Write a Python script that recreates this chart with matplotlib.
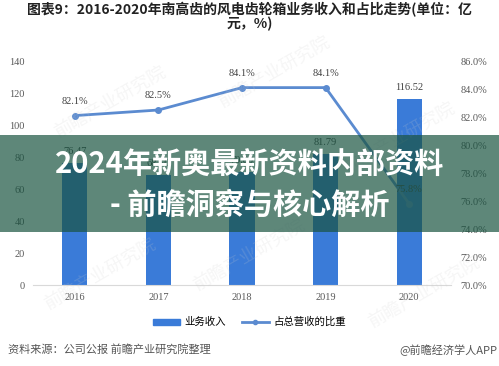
import matplotlib
matplotlib.use("Agg")
from matplotlib import pyplot
from matplotlib.patches import Rectangle, Patch
from matplotlib.lines import Line2D

pyplot.rcParams['font.family'] = ['Noto Sans CJK SC', 'DejaVu Sans']

years = ['2016', '2017', '2018', '2019', '2020']
revenue = [76.47, 68.50, 70.80, 81.79, 116.52]   # 亿元
share = [82.1, 82.5, 84.1, 84.1, 75.8]            # %

bar_color = '#3a7bd8'
line_color = '#5b8bd0'
tick_color = '#595959'
serif = 'Liberation Serif'

fig = pyplot.figure(figsize=(4.99, 3.66), dpi=100)
ax = fig.add_axes([0.0661, 0.2213, 0.8377, 0.612])
ax2 = ax.twinx()

x = list(range(len(years)))
ax.bar(x, revenue, width=0.3, color=bar_color, zorder=2)
for xi, v in zip(x, revenue):
    ax.annotate("{:.2f}".format(v), (xi, v), textcoords="offset points",
                xytext=(0, 5), ha='center', va='bottom', fontsize=7.5,
                family=serif, color='#404040')
ax.set_xlim(-0.5, 4.5)
ax.set_ylim(0, 140)
ax.set_yticks(range(0, 141, 20))
ax.set_xticks(x)
ax.set_xticklabels(years)

ax2.plot(x, share, color=line_color, lw=2, marker='o', ms=4, zorder=3)
for xi, v in zip(x, share):
    ax2.annotate("{:.1f}%".format(v), (xi, v), textcoords="offset points",
                 xytext=(0, 7), ha='center', va='bottom', fontsize=7.5,
                 family=serif, color='#404040')
ax2.set_ylim(70, 86)
ax2.set_yticks(range(70, 87, 2))
ax2.set_yticklabels(["{:.1f}%".format(t) for t in range(70, 87, 2)])

for a in (ax, ax2):
    for s in a.spines.values():
        s.set_visible(False)
    a.tick_params(length=0, labelsize=7.5, labelcolor=tick_color)
    for lab in a.get_xticklabels() + a.get_yticklabels():
        lab.set_family(serif)
ax.spines['bottom'].set_visible(True)
ax.spines['bottom'].set_color('#d9d9d9')
ax.tick_params(axis='y', pad=6)
ax.tick_params(axis='x', pad=6)
ax2.tick_params(axis='y', pad=7)

# title
fig.text(0.5, 0.955, "图表9：2016-2020年南高齿的风电齿轮箱业务收入和占比走势(单位：亿\n元，%)",
         ha='center', va='center', fontsize=10, fontweight='bold', color='#222222',
         linespacing=1.0)

# legend
handles = [Patch(color=bar_color, label='业务收入'),
           Line2D([0], [0], color=line_color, lw=2, marker='o', ms=3, label='占总营收的比重')]
fig.legend(handles=handles, loc='center', bbox_to_anchor=(0.5, 0.12), ncol=2,
           frameon=False, fontsize=7.5, handlelength=2.6, handleheight=0.5,
           columnspacing=1.5, handletextpad=0.4)

# footer
fig.text(0.016, 0.044, "资料来源：公司公报 前瞻产业研究院整理", ha='left', va='center',
         fontsize=8, color='#555555')
fig.text(0.996, 0.044, "@前瞻经济学人APP", ha='right', va='center',
         fontsize=8, color='#555555')

# faint watermarks
for wx, wy in [(0.22, 0.72), (0.55, 0.8), (0.8, 0.62), (0.2, 0.25), (0.5, 0.3), (0.85, 0.2)]:
    fig.text(wx, wy, "前瞻产业研究院", rotation=30, ha='center', va='center',
             fontsize=13, color='#cccccc', alpha=0.18, zorder=4)

# overlay banner
fig.patches.append(Rectangle((0, 0.366), 1, 0.265, transform=fig.transFigure,
                             facecolor=(26/255, 84/255, 65/255), alpha=0.7,
                             edgecolor='none', zorder=5))
fig.text(0.5, 0.549, "2024年新奥最新资料内部资料", ha='center', va='center',
         fontsize=21, fontweight='heavy', color='white', zorder=6)
fig.text(0.5, 0.44, "- 前瞻洞察与核心解析", ha='center', va='center',
         fontsize=21, fontweight='heavy', color='white', zorder=6)

pyplot.savefig('out.png', dpi=100)
